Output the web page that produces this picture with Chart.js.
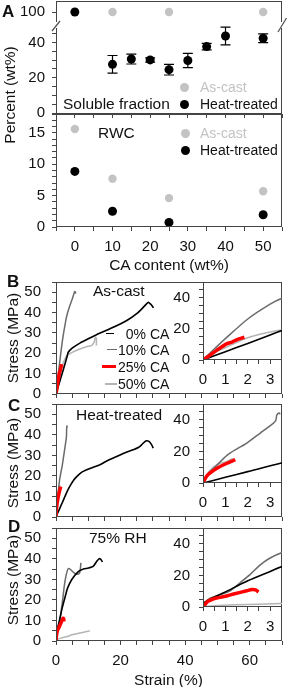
<!DOCTYPE html>
<html>
<head>
<meta charset="UTF-8">
<script src="https://cdn.jsdelivr.net/npm/chart.js"></script>
<style>
  html, body { margin: 0; padding: 0; background: #fff; overflow: hidden; }
  #fig { position: relative; width: 288px; height: 687px; overflow: hidden;
         font-family: 'Liberation Sans', Arial, sans-serif; color: #111; }
  #fig canvas { position: absolute; }
  .t { position: absolute; font-size: 15.5px; line-height: 1; white-space: pre; }
  .leg { font-size: 14px; }
  .letter { font-weight: bold; font-size: 17px; }
  .dot { position: absolute; width: 9px; height: 9px; border-radius: 50%; }
  .sw { position: absolute; }
</style>
</head>
<body>
<div id="fig"></div>
<script>
// ---- panel A data (CA content, wt%) ----
const caContent = [0, 10, 15, 20, 25, 30, 35, 40, 50];
const solHeat = [100, 27.6, 30.6, 30.1, 24.6, 29.8, 37.6, 43.6, 42.3];
const solHeatErr = [0, 5, 2.8, 1.2, 3, 4, 1.8, 5, 2.5];
const castContent = [10, 25, 50];
const solCast = [100, 100, 100];
const rwcContent = [0, 10, 25, 50];
const rwcCast = [15.6, 7.7, 4.6, 5.7];
const rwcHeat = [8.85, 2.5, 0.73, 1.96];

// ---- panel B: as-cast stress-strain ----
const bStrain0 = [0, 1, 2, 3, 3.5, 3.8, 5, 7.4, 10.5, 13.5, 16.7, 21.8, 25.4, 27.9, 28.6, 29.5, 30.2];
const bStress0 = [0, 5.3, 10.6, 16, 18.8, 20.5, 22.5, 25, 27.5, 29.8, 32, 36, 40, 44, 45, 43.8, 42.3];
const bStrain10 = [0, 0.5, 1, 2, 3, 3.5, 4.2, 4.9, 5.5, 5.8, 6.0, 6.1];
const bStress10 = [0, 7, 13.7, 26.3, 35.8, 39.4, 43, 46, 49, 50.3, 50, 49.3];
const bStrain25 = [0, 0.3, 0.62, 1.07, 1.3, 1.52, 1.85];
const bStress25 = [0, 3, 6.3, 10.5, 11.5, 13.1, 14.6];
const bStrain50 = [0, 0.5, 1, 2, 3, 3.5, 4.5, 6.4, 9.4, 11, 11.8, 12.2, 12.5, 12.5];
const bStress50 = [0, 4.5, 8, 14.3, 17.9, 19.2, 20, 21.5, 23.2, 23.8, 25.5, 27.8, 27.5, 23.8];

// ---- panel C: heat-treated ----
const cStrain0 = [0, 1, 2, 3.5, 4.5, 5.5, 6.5, 8, 9.5, 11.5, 13.6, 16, 18.8, 21, 23.9, 25.5, 26.5, 27.8, 28.8, 29.6, 30.1];
const cStress0 = [0, 3.6, 7.2, 12.6, 15.5, 18, 19.8, 21.8, 23, 24.2, 25.4, 27.5, 29.4, 31, 32.7, 33.8, 35.1, 37, 36.8, 35.2, 33.5];
const cStrain10 = [0, 0.25, 0.6, 1.07, 1.5, 1.96, 2.56, 3.15, 3.25, 3.3, 3.4, 3.45];
const cStress10 = [0, 6, 11, 17.5, 21.5, 25.3, 31.6, 37.9, 39.5, 43.1, 44.3, 43.5];
const cStrain25 = [0, 0.18, 0.62, 1.07, 1.3, 1.44];
const cStress25 = [0, 4.6, 9.3, 12.5, 13.8, 14.8];
const cStrain50 = [0, 0.25, 0.62, 1.07, 1.29, 1.38];
const cStress50 = [0, 7, 11.6, 13.7, 15.3, 15.4];

// ---- panel D: 75% RH ----
const dStrain0 = [0, 0.08, 1, 2, 3, 3.55, 4.85, 6.9, 8.5, 10, 11.5, 12.5, 13.3, 13.8, 14.4];
const dStress0 = [0, 3, 9.5, 16.6, 22.5, 25.6, 29.8, 33.8, 35, 35.5, 36.3, 38.5, 40, 39.8, 38.5];
const dStrain10 = [0, 0.1, 0.3, 0.7, 1.2, 1.64, 2.1, 2.56, 3.0, 3.55, 3.9, 4.5, 5.5, 6.5, 7.3, 7.6, 7.7];
const dStress10 = [0, 3, 5.5, 7.5, 10, 15.2, 20.5, 26.7, 31, 34.5, 35.3, 34.8, 33.3, 32.5, 33, 36, 38];
const dStrain25 = [0, 0.22, 0.6, 1.0, 1.37, 1.96, 2.19, 2.35, 2.48];
const dStress25 = [0, 3.6, 5.7, 6.8, 8.2, 10.3, 11.1, 10.8, 9.5];
const dStrain50 = [0, 0.5, 1.5, 3.5, 5, 7.4, 10, 10.5];
const dStress50 = [0, 0.8, 1.4, 2.2, 3, 3.9, 4.7, 5];

// ---- ticks ----
const aXTicks = [-5, 0, 5, 10, 15, 20, 25, 30, 35, 40, 45, 50, 55];
const aXLabels = [0, 10, 20, 30, 40, 50];
const solYTicks = [0, 5, 10, 15, 20, 25, 30, 35, 40, 45];
const solYLabels = [0, 20, 40];
const topYTicks = [100];
const rwcYTicks = [0, 1, 2, 3, 4, 5, 6, 7, 8, 9, 10, 11, 12, 13, 14, 15, 16, 17, 18];
const rwcYLabels = [0, 5, 10, 15];
const mainXTicks = [0, 5, 10, 15, 20, 25, 30, 35, 40, 45, 50, 55, 60, 65, 70];
const mainXLabels = [0, 20, 40, 60];
const mainYTicks = [0, 5, 10, 15, 20, 25, 30, 35, 40, 45, 50, 55];
const mainYLabels = [0, 10, 20, 30, 40, 50];
const insetXTicks = [0, 0.5, 1, 1.5, 2, 2.5, 3, 3.5];
const insetXLabels = [0, 1, 2, 3];
const insetYTicks = [0, 5, 10, 15, 20, 25, 30, 35, 40, 45, 50];
const insetYLabels = [0, 20, 40];

const FONT = "'Liberation Sans', Arial, sans-serif";
Chart.defaults.font.family = FONT;
Chart.defaults.font.size = 15;
Chart.defaults.color = '#111';

const AXIS = '#444';
const BLACK = '#000', DARK = '#6b6b6b', LIGHT = '#b5b5b5', RED = '#ff0000', CAST = '#c3c3c3';
const fig = document.getElementById('fig');

const pts = (xs, ys) => xs.map((x, i) => ({ x, y: ys[i] }));

function axis(min, max, ticks, labels, pad) {
  return {
    type: 'linear', min, max,
    afterBuildTicks: s => { s.ticks = ticks.map(v => ({ value: v })); },
    border: { display: false },
    grid: { display: true, drawOnChartArea: false, drawTicks: true, tickLength: 4, color: AXIS, lineWidth: 1 },
    ticks: {
      autoSkip: false, maxRotation: 0, padding: pad, color: '#111',
      font: { family: FONT, size: 15 },
      callback: v => labels.includes(v) ? String(v) : ''
    }
  };
}

// draws the plot frame on the chosen sides
const framePlugin = {
  id: 'frame',
  afterDraw(chart, args, opts) {
    const { ctx, chartArea: a } = chart;
    const L = Math.round(a.left) + 0.5, R = Math.round(a.right) - 0.5;
    const T = Math.round(a.top) + 0.5, B = Math.round(a.bottom) - 0.5;
    ctx.save();
    ctx.strokeStyle = AXIS;
    ctx.lineWidth = 1;
    ctx.beginPath();
    const s = opts.sides || '';
    if (s.includes('t')) { ctx.moveTo(L - 0.5, T); ctx.lineTo(R + 0.5, T); }
    if (s.includes('b')) { ctx.moveTo(L - 0.5, B); ctx.lineTo(R + 0.5, B); }
    if (s.includes('l')) { ctx.moveTo(L, T - 0.5); ctx.lineTo(L, B + 0.5); }
    if (s.includes('r')) { ctx.moveTo(R, T - 0.5); ctx.lineTo(R, B + 0.5); }
    ctx.stroke();
    ctx.restore();
  }
};

// padding is kept larger than the label overflow Chart.js reserves,
// so the plot area lands exactly on the given rectangle
function makeChart(area, lw, bh, scales, datasets, sides, plugins = []) {
  const PT = 26, PR = 12;
  bh = Math.max(bh, 26);
  const cv = document.createElement('canvas');
  const w = lw + (area.r - area.l) + PR, h = PT + (area.b - area.t) + bh;
  cv.width = w; cv.height = h;
  cv.style.left = (area.l - lw) + 'px';
  cv.style.top = (area.t - PT) + 'px';
  cv.style.width = w + 'px';
  cv.style.height = h + 'px';
  fig.appendChild(cv);
  scales.x.afterFit = s => { s.height = bh; };
  scales.y.afterFit = s => { s.width = lw; };
  return new Chart(cv, {
    type: 'scatter',
    data: { datasets },
    options: {
      responsive: false, animation: false, events: [],
      layout: { padding: { top: PT, right: PR, left: 0, bottom: 0 } },
      plugins: { legend: { display: false }, tooltip: { enabled: false }, frame: { sides } },
      scales
    },
    plugins: [framePlugin, ...plugins]
  });
}

function dots(xs, ys, color, r) {
  return { data: pts(xs, ys), pointRadius: r, pointBackgroundColor: color, pointBorderWidth: 0, showLine: false };
}
function curve(xs, ys, color, w) {
  return { data: pts(xs, ys), showLine: true, pointRadius: 0, borderColor: color, borderWidth: w, tension: 0.25 };
}

// error bars for the heat-treated soluble fraction
const errBars = {
  id: 'errBars',
  beforeDatasetsDraw(chart) {
    const { ctx, scales: { x, y }, chartArea: a } = chart;
    ctx.save();
    ctx.strokeStyle = '#000';
    ctx.lineWidth = 1.2;
    caContent.forEach((c, i) => {
      const e = solHeatErr[i];
      if (!e) return;
      const px = x.getPixelForValue(c);
      const yHi = y.getPixelForValue(solHeat[i] + e);
      const yLo = y.getPixelForValue(solHeat[i] - e);
      if (yLo < a.top) return;
      ctx.beginPath();
      ctx.moveTo(px, yHi); ctx.lineTo(px, yLo);
      ctx.moveTo(px - 5, yHi); ctx.lineTo(px + 5, yHi);
      ctx.moveTo(px - 5, yLo); ctx.lineTo(px + 5, yLo);
      ctx.stroke();
    });
    ctx.restore();
  }
};

// axis break marks between the 100 row and the lower range
const breakMarks = {
  id: 'breakMarks',
  afterDraw(chart) {
    const { ctx, chartArea: a } = chart;
    ctx.save();
    ctx.strokeStyle = '#555';
    ctx.lineWidth = 1.3;
    ctx.beginPath();
    ctx.moveTo(a.left - 4, a.top + 3); ctx.lineTo(a.left + 4, a.top - 7);
    ctx.moveTo(a.right - 4, a.top + 4); ctx.lineTo(a.right + 4.5, a.top - 10);
    ctx.stroke();
    ctx.restore();
  }
};

// ---- panel A ----
makeChart({ l: 56, r: 282, t: 1, b: 22 }, 56, 6,
  { x: axis(-5, 55, [], [], 0), y: axis(94.37, 106.2, topYTicks, topYTicks, 7) },
  [dots(caContent, solHeat, BLACK, 4.5), dots(castContent, solCast, CAST, 4.2)], 'tlr');

makeChart({ l: 56, r: 282, t: 28, b: 114 }, 56, 12,
  { x: axis(-5, 55, aXTicks, [], 7), y: axis(-0.4, 48.1, solYTicks, solYLabels, 7) },
  [dots(caContent, solHeat, BLACK, 4.5), dots(castContent, solCast, CAST, 4.2)], 'lrb',
  [errBars, breakMarks]);

makeChart({ l: 56, r: 282, t: 114, b: 227 }, 56, 40,
  { x: axis(-5, 55, aXTicks, aXLabels, 7), y: axis(0, 18, rwcYTicks, rwcYLabels, 7) },
  [dots(rwcContent, rwcHeat, BLACK, 4.5), dots(rwcContent, rwcCast, CAST, 4.2)], 'tlrb');

// ---- panels B, C, D (main + inset) ----
function stressPanel(top, bottom, insetBottom, xLabels, sets) {
  const ds = () => [
    curve(sets[2][0], sets[2][1], RED, 3.5),
    curve(sets[0][0], sets[0][1], BLACK, 1.6),
    curve(sets[1][0], sets[1][1], DARK, 1.5),
    curve(sets[3][0], sets[3][1], LIGHT, 1.5)
  ];
  makeChart({ l: 56, r: 282, t: top, b: bottom }, 56, xLabels.length ? 40 : 12,
    { x: axis(0, 70, mainXTicks, xLabels, 7), y: axis(0, 55, mainYTicks, mainYLabels, 11) },
    ds(), 'tlrb');
  makeChart({ l: 203, r: 282, t: top, b: insetBottom }, 40, 40,
    { x: axis(0, 3.53, insetXTicks, insetXLabels, 7), y: axis(0, 50, insetYTicks, insetYLabels, 9) },
    ds(), 'lb');
}

stressPanel(282, 394, 360, [], [[bStrain0, bStress0], [bStrain10, bStress10], [bStrain25, bStress25], [bStrain50, bStress50]]);
stressPanel(404, 517, 483, [], [[cStrain0, cStress0], [cStrain10, cStress10], [cStrain25, cStress25], [cStrain50, cStress50]]);
stressPanel(528, 641, 607, mainXLabels, [[dStrain0, dStress0], [dStrain10, dStress10], [dStrain25, dStress25], [dStrain50, dStress50]]);

// ---- text annotations ----
function txt(s, x, cy, opt = {}) {
  const d = document.createElement('div');
  d.className = 't' + (opt.cls ? ' ' + opt.cls : '');
  d.textContent = s;
  const fs = opt.cls === 'letter' ? 17 : opt.cls === 'leg' ? 14 : 15.5;
  d.style.left = x + 'px';
  d.style.top = (cy - fs / 2) + 'px';
  if (opt.color) d.style.color = opt.color;
  if (opt.center) d.style.transform = 'translateX(-50%)';
  if (opt.rot) {
    d.style.top = cy + 'px';
    d.style.transform = 'translate(-50%, -50%) rotate(-90deg)';
  }
  fig.appendChild(d);
}
function dot(x, y, color) {
  const d = document.createElement('div');
  d.className = 'dot';
  d.style.left = (x - 4.5) + 'px';
  d.style.top = (y - 4.5) + 'px';
  d.style.background = color;
  fig.appendChild(d);
}
function swatch(x1, x2, y, color, w) {
  const d = document.createElement('div');
  d.className = 'sw';
  d.style.left = x1 + 'px';
  d.style.width = (x2 - x1) + 'px';
  d.style.top = (y - w / 2) + 'px';
  d.style.height = w + 'px';
  d.style.background = color;
  fig.appendChild(d);
}

txt('A', 2, 11, { cls: 'letter' });
txt('Percent (wt%)', 10, 95, { rot: true });
txt('Soluble fraction', 63, 104);
dot(184, 87, CAST); txt('As-cast', 200, 87, { cls: 'leg', color: CAST });
dot(184, 104, BLACK); txt('Heat-treated', 200, 104, { cls: 'leg' });
txt('RWC', 98, 133);
dot(185, 133, CAST); txt('As-cast', 200, 133, { cls: 'leg', color: CAST });
dot(185, 150, BLACK); txt('Heat-treated', 200, 150, { cls: 'leg' });
txt('CA content (wt%)', 169, 265, { center: true });

txt('B', 7, 281.5, { cls: 'letter' });
txt('Stress (MPa)', 13, 337.5, { rot: true });
txt('As-cast', 93, 291);
swatch(106, 114, 333.5, BLACK, 1.6); txt('\u20070% CA', 118, 333.5, { cls: 'leg' });
swatch(107, 117, 349.5, DARK, 1.5); txt('10% CA', 118, 349.5, { cls: 'leg' });
swatch(102, 116, 366.5, RED, 3.5); txt('25% CA', 118, 366.5, { cls: 'leg' });
swatch(105, 117, 384, LIGHT, 1.5); txt('50% CA', 118, 384, { cls: 'leg' });

txt('C', 8, 405, { cls: 'letter' });
txt('Stress (MPa)', 13, 462.5, { rot: true });
txt('Heat-treated', 76, 415);

txt('D', 8, 526.5, { cls: 'letter' });
txt('Stress (MPa)', 13, 580, { rot: true });
txt('75% RH', 89, 538);
txt('Strain (%)', 168.5, 680, { center: true });
</script>
</body>
</html>
